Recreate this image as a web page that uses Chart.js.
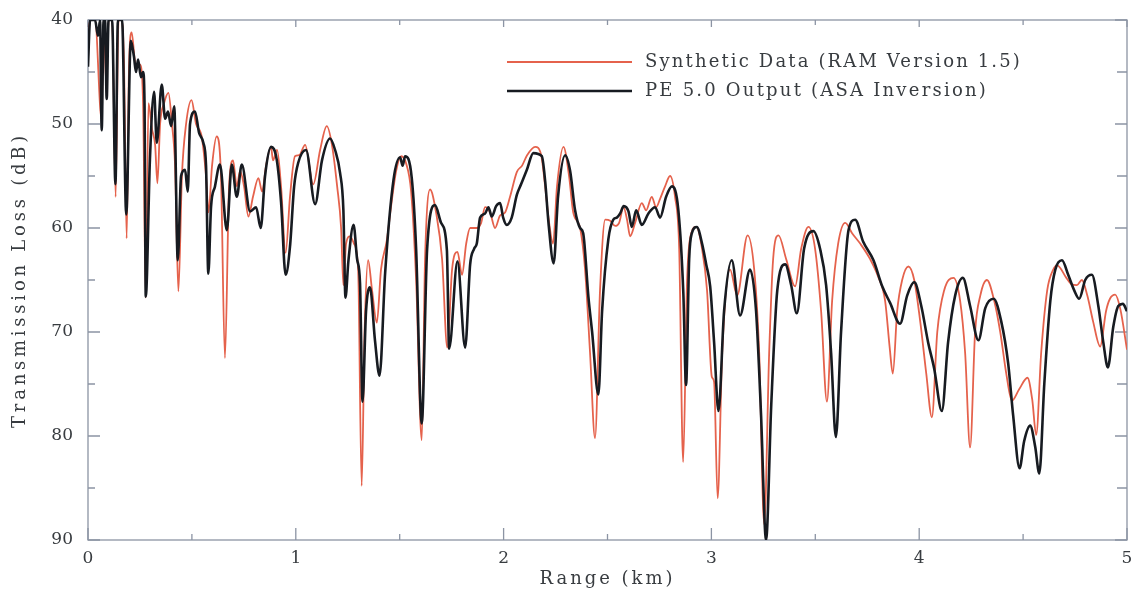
<!DOCTYPE html>
<html>
<head>
<meta charset="utf-8">
<title>Transmission Loss vs Range</title>
<script src="https://cdn.jsdelivr.net/npm/chart.js@4.4.1/dist/chart.umd.min.js"></script>
<style>
  body { margin: 0; background: #fff; }
  #wrap { width: 1132px; height: 595px; }
</style>
</head>
<body>
<div id="wrap"><canvas id="tl" width="1132" height="595"></canvas></div>
<script>

// RAM 1.5 synthetic data, range (km) / loss (dB)
const ramRange = [
  0, 0.010, 0.034, 0.065, 0.075, 0.089, 0.099, 0.116, 0.133, 0.147,
  0.161, 0.173, 0.186, 0.197, 0.210, 0.226, 0.241, 0.250, 0.265, 0.278,
  0.291, 0.308, 0.323, 0.334, 0.347, 0.366, 0.387, 0.404, 0.419, 0.435,
  0.452, 0.472, 0.498, 0.520, 0.547, 0.568, 0.580, 0.597, 0.619, 0.640,
  0.659, 0.679, 0.698, 0.716, 0.732, 0.751, 0.772, 0.794, 0.820, 0.838,
  0.857, 0.881, 0.890, 0.910, 0.929, 0.951, 0.972, 0.996, 1.016, 1.045,
  1.084, 1.117, 1.149, 1.174, 1.199, 1.218, 1.229, 1.242, 1.261, 1.280,
  1.300, 1.317, 1.331, 1.348, 1.367, 1.390, 1.410, 1.438, 1.458, 1.483,
  1.507, 1.531, 1.555, 1.579, 1.606, 1.622, 1.646, 1.675, 1.704, 1.729,
  1.752, 1.778, 1.800, 1.820, 1.839, 1.871, 1.892, 1.911, 1.935, 1.959,
  1.983, 2.007, 2.031, 2.064, 2.089, 2.113, 2.152, 2.181, 2.200, 2.219,
  2.238, 2.257, 2.288, 2.315, 2.335, 2.368, 2.392, 2.416, 2.440, 2.464,
  2.489, 2.513, 2.537, 2.556, 2.577, 2.594, 2.609, 2.633, 2.665, 2.686,
  2.713, 2.734, 2.753, 2.777, 2.801, 2.825, 2.845, 2.864, 2.883, 2.903,
  2.927, 2.955, 2.979, 3.002, 3.013, 3.030, 3.052, 3.090, 3.124, 3.174,
  3.206, 3.230, 3.254, 3.278, 3.297, 3.323, 3.360, 3.403, 3.432, 3.467,
  3.499, 3.528, 3.556, 3.581, 3.610, 3.644, 3.677, 3.716, 3.764, 3.803,
  3.836, 3.858, 3.873, 3.894, 3.918, 3.948, 3.976, 4.005, 4.034, 4.061,
  4.087, 4.120, 4.165, 4.197, 4.221, 4.245, 4.269, 4.294, 4.326, 4.361,
  4.390, 4.419, 4.446, 4.481, 4.521, 4.544, 4.563, 4.587, 4.616, 4.645,
  4.664, 4.708, 4.732, 4.759, 4.783, 4.809, 4.837, 4.871, 4.899, 4.918,
  4.943, 4.968, 5.000
];
const ramLoss = [
  42, 40, 40, 49.5, 40, 46.5, 40, 40, 57, 40,
  40, 44, 61, 45, 41.2, 44, 44.5, 44.3, 48, 66.7,
  48, 50.5, 52, 55.7, 50, 48, 47, 50, 54, 66.1,
  55, 50, 47.7, 50, 51.2, 55, 58.5, 54, 51.2, 55,
  72.5, 56, 53.5, 56, 54.5, 56, 58.9, 57, 55.2, 56.5,
  54, 52.2, 53.5, 52.5, 56, 62.4, 57, 53.1, 53, 52,
  55.8, 52.5, 50.2, 52, 56, 60, 65.5, 61.5, 60.8, 61.5,
  64, 84.8, 70, 63.1, 66, 69.1, 64, 61.2, 58, 54.5,
  53.1, 53.8, 56.5, 65, 80.4, 63, 56.3, 58.5, 63, 71.5,
  64, 62.3, 64.5, 61.5, 60, 60, 59.5, 58, 58.5, 60,
  58.8, 58.5, 57, 54.6, 54, 53, 52.2, 53, 56, 59.5,
  61.5, 56, 52.2, 55, 58.5, 60, 64, 72, 80.2, 66,
  59.2, 59.3, 59.8, 59.5, 58, 59.2, 60.8, 59.5, 57.6, 58.3,
  57, 58, 57.2, 56, 55, 57, 62, 82.5, 65, 60.5,
  59.9, 62, 66, 74.3, 74.8, 86, 72, 64, 66.5, 60.7,
  64, 72, 88.5, 72, 63, 60.7, 63, 65.6, 62, 59.9,
  62, 68, 76.7, 67, 61.5, 59.5, 60.5, 61.5, 63, 64.7,
  67, 71.5, 74, 68, 65, 63.7, 65, 69, 74, 78.2,
  70, 66, 64.8, 67, 72, 81.1, 70, 66.5, 65, 67,
  70, 74, 76.6, 75.5, 74.4, 76.5, 79.9, 72, 66, 64,
  63.6, 64.8, 65.4, 65.5, 65, 66.5, 69, 71.4, 68, 66.8,
  66.4, 67.8, 71.7
];

// PE 5.0 output with the ASA inversion result
const peRange = [
  0, 0.010, 0.034, 0.048, 0.058, 0.066, 0.075, 0.082, 0.090, 0.099,
  0.116, 0.132, 0.144, 0.164, 0.184, 0.206, 0.221, 0.231, 0.241, 0.255,
  0.265, 0.272, 0.278, 0.298, 0.318, 0.331, 0.355, 0.371, 0.385, 0.400,
  0.415, 0.432, 0.448, 0.467, 0.480, 0.491, 0.515, 0.534, 0.555, 0.568,
  0.579, 0.592, 0.611, 0.635, 0.668, 0.692, 0.716, 0.740, 0.780, 0.809,
  0.831, 0.852, 0.881, 0.908, 0.929, 0.951, 0.972, 0.992, 1.012, 1.049,
  1.093, 1.126, 1.165, 1.189, 1.213, 1.229, 1.239, 1.253, 1.278, 1.295,
  1.309, 1.321, 1.338, 1.357, 1.381, 1.403, 1.430, 1.470, 1.502, 1.514,
  1.526, 1.558, 1.579, 1.606, 1.632, 1.670, 1.699, 1.727, 1.738, 1.778,
  1.815, 1.839, 1.858, 1.871, 1.887, 1.911, 1.927, 1.943, 1.964, 1.983,
  1.998, 2.015, 2.039, 2.064, 2.084, 2.112, 2.143, 2.184, 2.200, 2.216,
  2.241, 2.262, 2.296, 2.320, 2.344, 2.368, 2.383, 2.408, 2.426, 2.456,
  2.474, 2.504, 2.528, 2.545, 2.561, 2.578, 2.601, 2.617, 2.638, 2.665,
  2.697, 2.729, 2.753, 2.782, 2.810, 2.841, 2.865, 2.878, 2.893, 2.906,
  2.930, 2.955, 2.975, 2.994, 3.013, 3.034, 3.061, 3.098, 3.138, 3.186,
  3.215, 3.239, 3.263, 3.288, 3.317, 3.355, 3.384, 3.411, 3.446, 3.491,
  3.523, 3.552, 3.576, 3.599, 3.624, 3.660, 3.692, 3.730, 3.780, 3.822,
  3.860, 3.908, 3.942, 3.976, 4.010, 4.043, 4.072, 4.109, 4.139, 4.173,
  4.210, 4.245, 4.285, 4.318, 4.358, 4.395, 4.428, 4.452, 4.483, 4.505,
  4.534, 4.558, 4.578, 4.602, 4.631, 4.655, 4.687, 4.717, 4.746, 4.770,
  4.799, 4.831, 4.862, 4.886, 4.908, 4.934, 4.958, 4.980, 5.000
];
const peLoss = [
  44.5, 40, 40, 41.5, 40, 50.6, 40, 40, 47.6, 40,
  40, 55.8, 40, 40, 58.7, 42, 43.5, 45, 43.8, 45.5,
  45, 48, 66.6, 53.4, 46.9, 51.8, 46.2, 49.5, 48.8, 50.2,
  48.3, 63.1, 55, 54.4, 56.5, 50, 48.8, 50.8, 51.8, 54,
  64.4, 58, 56, 53.9, 60.2, 53.9, 57, 53.9, 58.4, 58,
  60, 55, 52.2, 53.4, 57.5, 64.5, 61.8, 56, 53.7, 52.5,
  57.7, 53.5, 51.4, 52.5, 54.7, 58.3, 66.7, 63.2, 59.7, 63,
  65.3, 76.7, 68, 65.7, 70.8, 74.2, 64.3, 55.4, 53.2, 54,
  53.1, 55.2, 62, 78.8, 62, 57.8, 59.5, 62.1, 71.6, 63.2,
  71.5, 63.5, 62, 61.5, 59, 58.6, 58, 58.9, 57.9, 57.6,
  59, 59.7, 59, 56.8, 55.8, 54.4, 52.8, 53.1, 55.5, 59.5,
  63.4, 57, 53, 54.5, 58.3, 60, 60.5, 66.6, 70, 76,
  68, 61.1, 59.2, 59, 58.6, 57.9, 58.4, 59.9, 58.3, 59.7,
  58.6, 58, 59, 57, 56, 58.3, 66.3, 75.1, 63, 60.5,
  59.9, 61.5, 63.5, 65.6, 71, 77.6, 68, 63.1, 68.4, 64,
  68, 78, 90, 77, 66, 63.5, 65.5, 68.2, 62, 60.3,
  62, 65.5, 72, 80.1, 70, 60.2, 59.2, 61.3, 63.1, 65.6,
  67.2, 69.2, 66.5, 65.2, 67.5, 71, 73.5, 77.6, 71, 66.5,
  64.8, 67.5, 70.8, 67.7, 66.8, 69, 73, 78, 83.1, 80.5,
  79, 81, 83.6, 75, 67, 64, 63.1, 64.5, 66, 66.8,
  65, 64.5, 67.5, 71, 73.4, 69.5, 67.5, 67.3, 68
];

const rangeTicks = [0, 1, 2, 3, 4, 5];
const rangeMinor = [0.5, 1.5, 2.5, 3.5, 4.5];
const lossTicks = [40, 50, 60, 70, 80, 90];
const lossMinor = [45, 55, 65, 75, 85];

const redLine = '#e5624c';
const darkLine = '#171b21';
const frameColor = '#8c94a4';
const textColor = '#383c40';
const serif = '"DejaVu Serif", "Liberation Serif", serif';

const toPoints = (xs, ys) => xs.map((x, i) => ({ x: x, y: ys[i] }));

// spread a string out so it covers the given width
const spreadText = (ctx, text, width) => {
  ctx.letterSpacing = '0px';
  const w = ctx.measureText(text).width;
  ctx.letterSpacing = Math.max(0, (width - w) / text.length) + 'px';
};

// box round the plot with inward ticks on all four sides
const frameTicks = {
  id: 'frameTicks',
  beforeDatasetsDraw(chart) {
    const { ctx, chartArea: a, scales: { x, y } } = chart;
    ctx.save();
    ctx.strokeStyle = frameColor;
    ctx.lineWidth = 1.3;
    ctx.strokeRect(a.left, a.top, a.right - a.left, a.bottom - a.top);
    ctx.beginPath();
    const xTick = (v, bottomLen, topLen) => {
      const px = x.getPixelForValue(v);
      ctx.moveTo(px, a.bottom);
      ctx.lineTo(px, a.bottom - bottomLen);
      ctx.moveTo(px, a.top);
      ctx.lineTo(px, a.top + topLen);
    };
    const yTick = (v, leftLen, rightLen) => {
      const py = y.getPixelForValue(v);
      ctx.moveTo(a.left, py);
      ctx.lineTo(a.left + leftLen, py);
      ctx.moveTo(a.right, py);
      ctx.lineTo(a.right - rightLen, py);
    };
    rangeTicks.forEach(v => xTick(v, 12, 7));
    rangeMinor.forEach(v => xTick(v, 6, 5));
    lossTicks.forEach(v => yTick(v, 12, 12));
    lossMinor.forEach(v => yTick(v, 7, 10));
    ctx.stroke();
    ctx.restore();
  }
};

// legend box and the two axis titles
const labels = {
  id: 'labels',
  afterDraw(chart) {
    const { ctx, chartArea: a } = chart;
    ctx.save();
    ctx.fillStyle = textColor;
    ctx.font = '18px ' + serif;
    ctx.textBaseline = 'middle';

    const rows = [62, 91];
    [0, 1].forEach(i => {
      const ds = chart.data.datasets[i];
      ctx.strokeStyle = ds.borderColor;
      ctx.lineWidth = ds.borderWidth;
      ctx.beginPath();
      ctx.moveTo(507, rows[i]);
      ctx.lineTo(632, rows[i]);
      ctx.stroke();
    });
    ctx.textAlign = 'left';
    spreadText(ctx, chart.data.datasets[0].label, 377);
    ctx.fillText(chart.data.datasets[0].label, 645, rows[0]);
    spreadText(ctx, chart.data.datasets[1].label, 343);
    ctx.fillText(chart.data.datasets[1].label, 645, rows[1]);

    ctx.textAlign = 'center';
    const xTitle = 'Range (km)';
    spreadText(ctx, xTitle, 136);
    ctx.fillText(xTitle, (a.left + a.right) / 2, 579);

    const yTitle = 'Transmission Loss (dB)';
    ctx.translate(20, (a.top + a.bottom) / 2);
    ctx.rotate(-Math.PI / 2);
    spreadText(ctx, yTitle, 296);
    ctx.fillText(yTitle, 0, 0);
    ctx.restore();
  }
};

new Chart(document.getElementById('tl'), {
  type: 'line',
  data: {
    datasets: [
      {
        label: 'Synthetic Data (RAM Version 1.5)',
        data: toPoints(ramRange, ramLoss),
        borderColor: redLine,
        borderWidth: 1.8,
        order: 2
      },
      {
        label: 'PE 5.0 Output (ASA Inversion)',
        data: toPoints(peRange, peLoss),
        borderColor: darkLine,
        borderWidth: 2.6,
        order: 1
      }
    ]
  },
  options: {
    responsive: false,
    animation: false,
    layout: { padding: { top: 20, right: 5, left: 0, bottom: 0 } },
    elements: {
      point: { radius: 0 },
      line: { cubicInterpolationMode: 'monotone', borderJoinStyle: 'round' }
    },
    plugins: {
      legend: { display: false },
      tooltip: { enabled: false }
    },
    scales: {
      x: {
        type: 'linear',
        min: 0,
        max: 5,
        grid: { display: false, drawTicks: false },
        border: { display: false },
        afterBuildTicks: s => { s.ticks = rangeTicks.map(v => ({ value: v })); },
        afterFit: s => { s.height = 55; s.paddingLeft = 0; s.paddingRight = 0; },
        ticks: { font: { family: serif, size: 17 }, color: textColor, padding: 8, maxRotation: 0 }
      },
      y: {
        type: 'linear',
        min: 40,
        max: 90,
        reverse: true,
        grid: { display: false, drawTicks: false },
        border: { display: false },
        afterBuildTicks: s => { s.ticks = lossTicks.map(v => ({ value: v })); },
        afterFit: s => { s.width = 88; s.paddingTop = 0; s.paddingBottom = 0; },
        ticks: { font: { family: serif, size: 17 }, color: textColor, padding: 15 }
      }
    }
  },
  plugins: [frameTicks, labels]
});

</script>
</body>
</html>
